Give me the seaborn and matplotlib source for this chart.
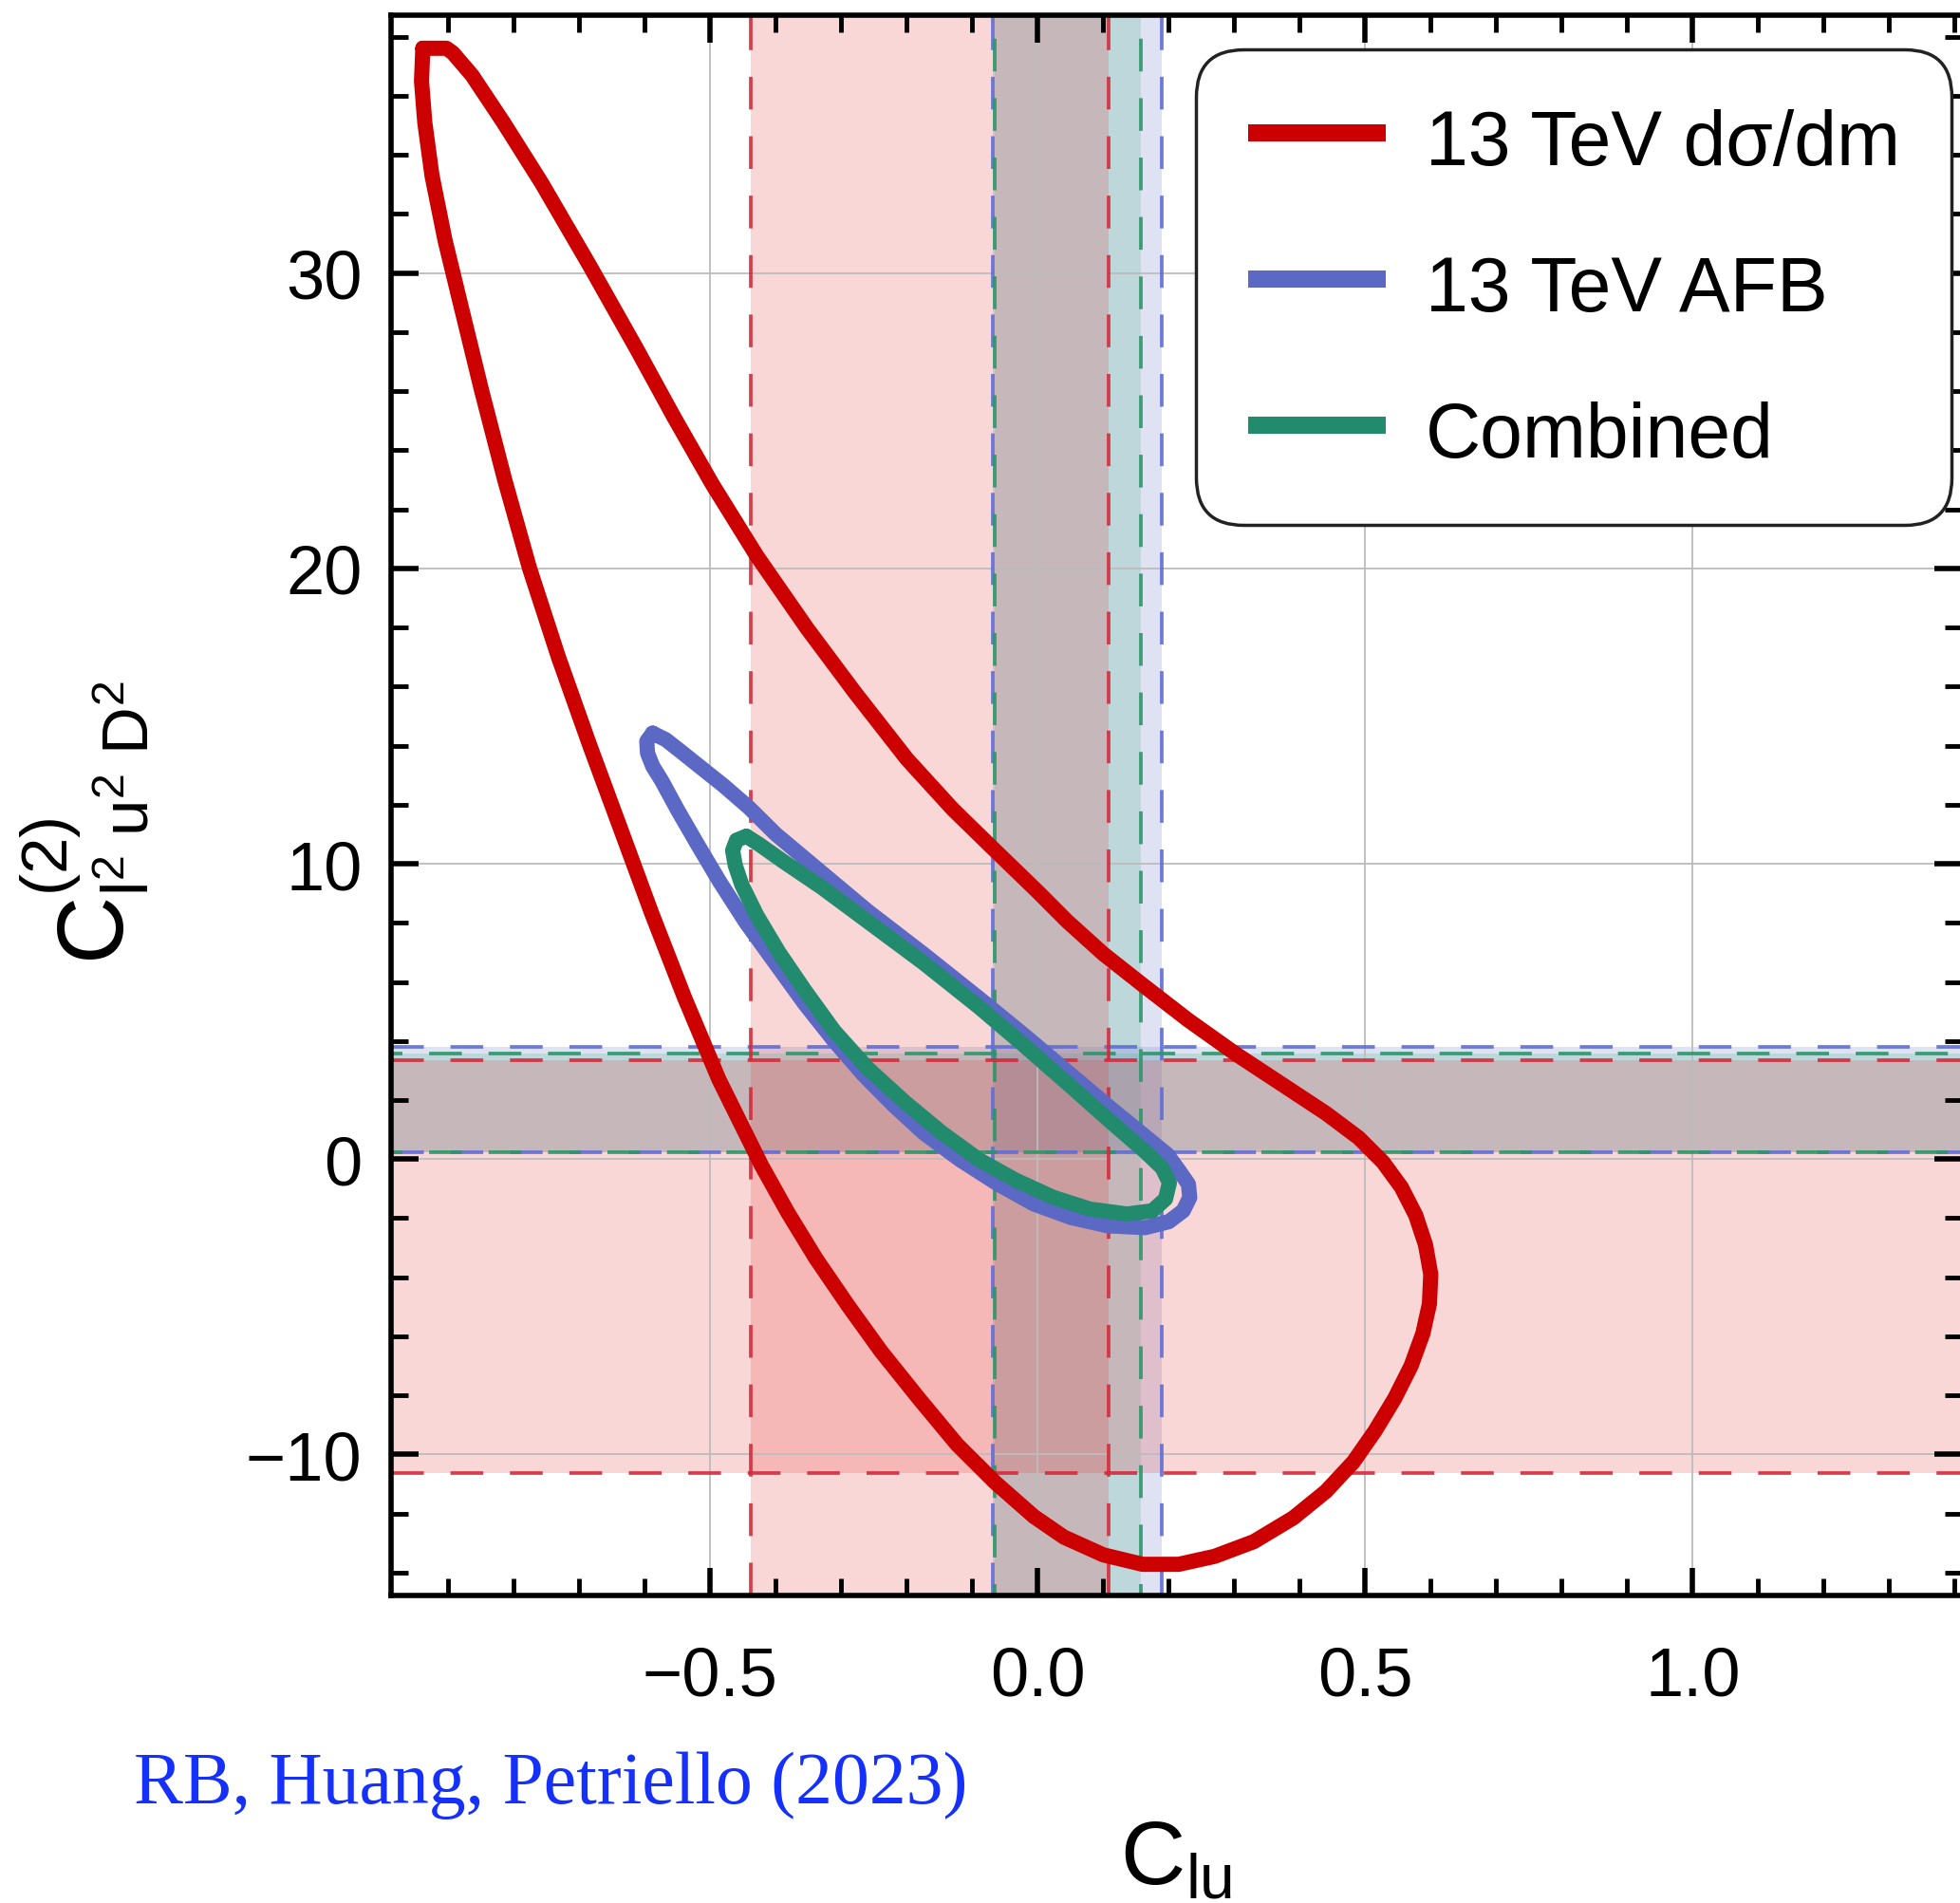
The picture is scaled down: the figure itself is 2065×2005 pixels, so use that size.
import matplotlib
matplotlib.use("Agg")
import matplotlib.pyplot as plt
from matplotlib.lines import Line2D
from matplotlib.ticker import MultipleLocator, FixedLocator, FuncFormatter
import pandas as pd
import seaborn as sns

# ---------------- data ----------------
series_names = ["13 TeV dσ/dm", "13 TeV AFB", "Combined"]
series_colors = ["#CC0000", "#5B68C4", "#228B6E"]

# 95% CL contour, 13 TeV dσ/dm
dsdm_x = [-0.939, -0.903, -0.893, -0.864, -0.816, -0.758, -0.685, -0.613, -0.555, -0.497,
          -0.429, -0.352, -0.280, -0.200, -0.130, -0.069, 0.000, 0.045, 0.100, 0.160,
          0.230, 0.303, 0.375, 0.440, 0.490, 0.527, 0.555, 0.577, 0.592, 0.600,
          0.598, 0.588, 0.570, 0.545, 0.515, 0.482, 0.440, 0.390, 0.330, 0.270,
          0.215, 0.160, 0.100, 0.040, -0.006, -0.065, -0.123, -0.180, -0.239, -0.290,
          -0.339, -0.382, -0.422, -0.487, -0.540, -0.590, -0.634, -0.684, -0.732, -0.776,
          -0.814, -0.849, -0.882, -0.905, -0.925, -0.936, -0.941, -0.939]
dsdm_y = [37.61, 37.61, 37.45, 36.70, 35.10, 33.06, 30.28, 27.45, 25.10, 22.85,
          20.42, 17.96, 15.82, 13.55, 11.85, 10.53, 9.05, 8.05, 6.95, 5.90,
          4.70, 3.55, 2.50, 1.55, 0.72, -0.10, -0.95, -1.90, -2.90, -3.90,
          -4.90, -5.90, -7.00, -8.10, -9.20, -10.25, -11.25, -12.15, -12.95, -13.45,
          -13.72, -13.72, -13.40, -12.80, -12.10, -10.95, -9.67, -8.15, -6.52, -4.95,
          -3.36, -1.80, -0.21, 2.70, 5.50, 8.35, 11.00, 14.00, 17.00, 20.00,
          23.00, 26.00, 29.00, 31.10, 33.30, 35.10, 36.50, 37.61]

# 95% CL contour, 13 TeV AFB
afb_x = [-0.588, -0.597, -0.596, -0.588, -0.574, -0.550, -0.520, -0.486, -0.446, -0.401,
         -0.356, -0.311, -0.266, -0.220, -0.175, -0.119, -0.062, -0.006, 0.051, 0.107,
         0.164, 0.200, 0.222, 0.232, 0.230, 0.215, 0.198, 0.165, 0.107, 0.051,
         -0.020, -0.090, -0.175, -0.260, -0.330, -0.400, -0.441, -0.480, -0.514, -0.545,
         -0.568, -0.588]
afb_y = [14.42, 14.15, 13.75, 13.30, 12.80, 11.82, 10.67, 9.40, 8.02, 6.64,
         5.26, 4.00, 2.85, 1.82, 0.90, -0.02, -0.83, -1.52, -1.98, -2.26,
         -2.32, -2.12, -1.75, -1.30, -0.85, -0.37, 0.15, 0.75, 1.80, 2.85,
         4.18, 5.45, 6.95, 8.40, 9.70, 11.00, 11.90, 12.65, 13.25, 13.80,
         14.20, 14.42]

# 95% CL contour, combined fit
comb_x = [-0.445, -0.460, -0.466, -0.462, -0.452, -0.429, -0.395, -0.356, -0.311, -0.260,
          -0.203, -0.147, -0.090, -0.034, 0.023, 0.079, 0.136, 0.175, 0.195, 0.201,
          0.190, 0.165, 0.107, 0.051, -0.020, -0.090, -0.175, -0.260, -0.330, -0.390,
          -0.425, -0.445]
comb_y = [10.93, 10.80, 10.45, 9.95, 9.29, 8.25, 6.99, 5.72, 4.34, 3.08,
          1.93, 0.90, -0.02, -0.71, -1.29, -1.69, -1.86, -1.75, -1.35, -0.80,
          -0.30, 0.23, 1.35, 2.45, 3.83, 5.15, 6.65, 8.05, 9.20, 10.10,
          10.65, 10.93]

# one-parameter 95% intervals (lower, upper)
clu_dsdm = [-0.4387, 0.108]
clu_afb = [-0.068, 0.1887]
clu_comb = [-0.0658, 0.157]
c2_dsdm = [-10.63, 3.34]
c2_afb = [0.22, 3.81]
c2_comb = [0.22, 3.57]

x_major = [-0.5, 0.0, 0.5, 1.0]
y_major = [-10, 0, 10, 20, 30]
x_range = [-0.9875, 1.411]
y_range = [-14.775, 38.73]

citation = "RB, Huang, Petriello (2023)"

# ---------------- style ----------------
sns.set_theme(style="ticks")
plt.rcParams["font.family"] = ["Liberation Sans", "DejaVu Sans"]
plt.rcParams["mathtext.fontset"] = "custom"
plt.rcParams["mathtext.rm"] = "Liberation Sans"
plt.rcParams["mathtext.default"] = "regular"
plt.rcParams["axes.unicode_minus"] = True
for k in ["text.color", "axes.labelcolor", "xtick.color", "ytick.color", "axes.edgecolor"]:
    plt.rcParams[k] = "black"

fig = plt.figure(figsize=(20.65, 20.06), dpi=100)
ax = fig.add_axes([0.19952, 0.16152, 0.80145, 0.83001])
ax.set_facecolor("white")

# interval bands: green, then blue, with the dσ/dm band laid over them
band_fill = {"comb": ("#68CE99", 0.30), "afb": ("#838FCF", 0.25), "dsdm": ("#E63737", 0.20)}
band_edge = {"afb": "#5F6DD6", "comb": "#2A9668", "dsdm": "#D42A3A"}
bands = {"comb": (clu_comb, c2_comb), "afb": (clu_afb, c2_afb), "dsdm": (clu_dsdm, c2_dsdm)}
for key in ["comb", "afb", "dsdm"]:
    col, a = band_fill[key]
    xb, yb = bands[key]
    ax.axvspan(xb[0], xb[1], color=col, alpha=a, lw=0, zorder=1)
    ax.axhspan(yb[0], yb[1], color=col, alpha=a, lw=0, zorder=1)
dash_offset = {"afb": 0, "comb": 6, "dsdm": 0}
for key in ["afb", "comb", "dsdm"]:
    xb, yb = bands[key]
    style = (dash_offset[key], (9.2, 7.5))
    for v in xb:
        ax.axvline(v, color=band_edge[key], lw=2.7, alpha=0.9, zorder=2, linestyle=style)
    for v in yb:
        ax.axhline(v, color=band_edge[key], lw=2.7, alpha=0.9, zorder=2, linestyle=style)

# contours
frames = []
for name, xs, ys in [(series_names[0], dsdm_x, dsdm_y),
                     (series_names[1], afb_x, afb_y),
                     (series_names[2], comb_x, comb_y)]:
    frames.append(pd.DataFrame({"C_lu": xs, "C2": ys, "fit": name}))
df = pd.concat(frames, ignore_index=True)

sns.lineplot(data=df, x="C_lu", y="C2", hue="fit", hue_order=series_names,
             palette=series_colors, sort=False, estimator=None, linewidth=11.5,
             solid_joinstyle="round", solid_capstyle="round", legend=False,
             ax=ax, zorder=3)

ax.set_xlim(*x_range)
ax.set_ylim(*y_range)

# grid and ticks
ax.set_axisbelow("line")
ax.xaxis.set_major_locator(FixedLocator(x_major))
ax.yaxis.set_major_locator(FixedLocator(y_major))
ax.xaxis.set_minor_locator(MultipleLocator(0.1))
ax.yaxis.set_minor_locator(MultipleLocator(2))
ax.xaxis.set_major_formatter(FuncFormatter(lambda v, p: f"{v:.1f}".replace("-", "\u2212")))
ax.yaxis.set_major_formatter(FuncFormatter(lambda v, p: f"{v:.0f}".replace("-", "\u2212")))
ax.grid(True, which="major", color="#bcbcbc", lw=1.3)
ax.tick_params(which="both", direction="in", top=True, right=True, colors="black")
ax.tick_params(which="major", length=21, width=4, labelsize=52)
ax.tick_params(which="minor", length=13, width=3.5)
ax.tick_params(axis="x", which="major", pad=38)
ax.tick_params(axis="y", which="major", pad=22)
for s in ax.spines.values():
    s.set_visible(True)
    s.set_linewidth(4)
    s.set_color("black")
    s.set_zorder(5)

ax.set_xlabel(r"$\mathregular{C_{lu}}$", fontsize=68)
ax.set_ylabel(r"$\mathregular{C^{(2)}_{l^2\;u^2\;D^2}}$", fontsize=71)
ax.xaxis.set_label_coords(0.5, -0.141)
ax.yaxis.set_label_coords(-0.152, 0.49)

handles = [Line2D([0], [0], color=c, lw=13, solid_capstyle="butt") for c in series_colors]
leg = ax.legend(handles, series_names, loc="upper left",
                bbox_to_anchor=(1260 / 2065, 1 - 53 / 2006), bbox_transform=fig.transFigure,
                borderaxespad=0, fontsize=58, frameon=True, fancybox=True,
                borderpad=0.68, labelspacing=0.88, handleheight=1.1,
                handlelength=1.8, handletextpad=0.52)
frame = leg.get_frame()
frame.set_boxstyle("round,pad=0,rounding_size=0.62")
frame.set_edgecolor("#222222")
frame.set_linewidth(2.5)
frame.set_facecolor("white")
frame.set_alpha(1)
leg.set_zorder(10)

fig.text(141 / 2065, 1 - 1900 / 2006, citation, color="#1530FA", fontsize=56,
         family=["Liberation Serif", "DejaVu Serif"], va="baseline", ha="left")

fig.savefig("out.png", dpi=100)
